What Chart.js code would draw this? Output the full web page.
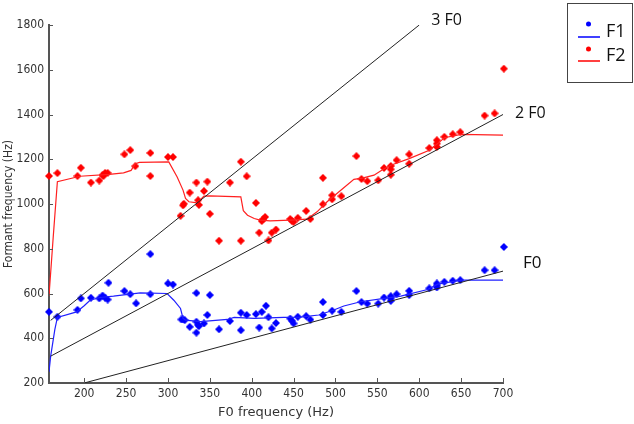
<!DOCTYPE html>
<html>
<head>
<meta charset="utf-8">
<script src="https://cdn.jsdelivr.net/npm/chart.js@4.4.1/dist/chart.umd.min.js"></script>
<style>
  html, body { margin: 0; padding: 0; background: #fff; }
  #wrap { width: 634px; height: 424px; }
</style>
</head>
<body>
<div id="wrap"><canvas id="myChart" width="634" height="424"></canvas></div>
<script>
const f1X = [158, 168, 192, 196, 208, 218, 222, 225, 228, 229, 248, 255, 262, 279, 279, 300, 306, 316, 318, 320, 326, 334, 334, 334, 336, 337, 343, 347, 350, 361, 374, 387, 387, 394, 405, 409, 412, 417, 420, 424, 429, 446, 448, 450, 455, 465, 470, 485, 485, 496, 507, 525, 531, 538, 551, 558, 566, 566, 566, 573, 588, 588, 612, 621, 621, 621, 630, 640, 649, 678, 690, 701];
const f1Y = [518, 496, 527, 578, 581, 578, 591, 581, 573, 648, 611, 597, 556, 776, 597, 645, 640, 484, 484, 481, 451, 602, 425, 474, 460, 454, 466, 504, 593, 440, 477, 514, 436, 504, 508, 448, 518, 545, 494, 444, 468, 488, 478, 466, 496, 499, 483, 562, 504, 523, 518, 611, 562, 555, 555, 582, 588, 578, 567, 597, 612, 593, 623, 645, 636, 627, 652, 657, 660, 704, 704, 808];

const f2X = [158, 168, 192, 196, 208, 218, 222, 225, 228, 223, 248, 255, 261, 279, 279, 300, 306, 315, 318, 319, 326, 334, 336, 337, 343, 347, 350, 361, 374, 387, 387, 394, 405, 409, 412, 414, 416, 420, 424, 429, 446, 448, 450, 455, 465, 470, 485, 485, 496, 496, 507, 525, 531, 538, 551, 558, 566, 566, 566, 573, 588, 588, 612, 621, 621, 621, 630, 640, 649, 678, 690, 701];
const f2Y = [1125, 1138, 1125, 1162, 1096, 1105, 1130, 1139, 1139, 1125, 1222, 1241, 1169, 1228, 1125, 1210, 1210, 947, 994, 1001, 1051, 1096, 1017, 996, 1058, 1100, 956, 836, 1096, 1189, 836, 1124, 1005, 872, 924, 933, 942, 837, 872, 886, 933, 924, 920, 938, 969, 933, 1117, 999, 1039, 1021, 1035, 1214, 1112, 1102, 1106, 1161, 1170, 1155, 1131, 1196, 1222, 1180, 1250, 1285, 1270, 1255, 1300, 1312, 1321, 1395, 1405, 1605];

// smoothed tracks
const f1CurveX = [158, 160, 165, 168, 191, 200, 207, 219, 235, 267, 299, 307, 315, 318, 321, 339, 371, 379, 403, 438, 458, 480, 498, 510, 530, 558, 578, 610, 622, 650, 701];
const f1CurveY = [250, 320, 440, 493, 518, 545, 570, 582, 588, 603, 600, 570, 533, 489, 481, 474, 484, 493, 489, 493, 494, 504, 526, 544, 563, 578, 588, 618, 642, 660, 660];

const f2CurveX = [158, 163, 168, 195, 230, 247, 256, 261, 266, 301, 311, 318, 321, 325, 335, 343, 350, 387, 390, 395, 403, 410, 422, 446, 466, 478, 490, 506, 522, 532, 546, 558, 566, 588, 612, 622, 630, 650, 701];
const f2CurveY = [590, 850, 1100, 1124, 1132, 1139, 1150, 1180, 1186, 1188, 1121, 1062, 1025, 1010, 1005, 1035, 1036, 1032, 970, 950, 935, 928, 925, 928, 932, 965, 1010, 1060, 1110, 1116, 1129, 1158, 1173, 1203, 1240, 1270, 1296, 1311, 1308];

// harmonic reference lines
const h1X = [200, 700], h1Y = [200, 700];
const h2X = [160, 700], h2Y = [320, 1400];
const h3X = [160, 600], h3Y = [480, 1800];

const xTicks = [200, 250, 300, 350, 400, 450, 500, 550, 600, 650, 700];
const yTicks = [200, 400, 600, 800, 1000, 1200, 1400, 1600, 1800];

function pts(xs, ys) {
  return xs.map((x, i) => ({ x: x, y: ys[i] }));
}

// little filled "plus" marker like the original plot
function makeMarker(color) {
  const c = document.createElement("canvas");
  c.width = 8;
  c.height = 8;
  const g = c.getContext("2d");
  g.fillStyle = color;
  g.beginPath();
  g.moveTo(4, 0);
  g.lineTo(6, 2);
  g.lineTo(8, 4);
  g.lineTo(6, 6);
  g.lineTo(4, 8);
  g.lineTo(2, 6);
  g.lineTo(0, 4);
  g.lineTo(2, 2);
  g.closePath();
  g.fill();
  g.fillRect(2, 2, 4, 4);
  return c;
}

const tickFont = "'DejaVu Sans', sans-serif";
const labelFont = "'Open Sans', 'Noto Sans', sans-serif";

// condensed look for the axis text
const condense = {
  id: "condense",
  beforeInit(chart) {
    chart.ctx.fontStretch = "condensed";
  },
  beforeDraw(chart) {
    chart.ctx.fontStretch = "condensed";
  },
};

const decorations = {
  id: "decorations",
  afterDraw(chart) {
    const ctx = chart.ctx;
    const xs = chart.scales.x;
    const ys = chart.scales.y;
    const area = chart.chartArea;
    ctx.save();
    ctx.fontStretch = "normal";

    // inward tick marks
    ctx.strokeStyle = "#555";
    ctx.lineWidth = 1;
    ctx.beginPath();
    xTicks.forEach((v) => {
      const px = Math.round(xs.getPixelForValue(v)) + 0.5;
      ctx.moveTo(px, area.bottom);
      ctx.lineTo(px, area.bottom - 5);
    });
    yTicks.forEach((v) => {
      const py = Math.round(ys.getPixelForValue(v)) + 0.5;
      ctx.moveTo(area.left, py);
      ctx.lineTo(area.left + 4, py);
    });
    ctx.stroke();

    // harmonic labels
    ctx.fillStyle = "#111";
    ctx.font = "16px " + labelFont;
    ctx.textBaseline = "middle";
    ctx.textAlign = "left";
    ctx.fillText("3 F0", xs.getPixelForValue(600) + 12, ys.getPixelForValue(1800) - 5);
    ctx.fillText("2 F0", xs.getPixelForValue(700) + 12, ys.getPixelForValue(1400) - 1);
    ctx.font = "17px " + labelFont;
    ctx.fillText("F0", xs.getPixelForValue(700) + 20, ys.getPixelForValue(700) - 8);

    // legend box
    ctx.strokeStyle = "#444";
    ctx.lineWidth = 1;
    ctx.strokeRect(567.5, 3.5, 65, 79);
    const rows = [
      { label: "F1", color: "#0000ff", dotY: 24, lineY: 37, textY: 32 },
      { label: "F2", color: "#ff0000", dotY: 49, lineY: 61, textY: 56 },
    ];
    ctx.font = "18px " + labelFont;
    rows.forEach((r) => {
      ctx.fillStyle = r.color;
      ctx.beginPath();
      ctx.arc(588.5, r.dotY, 2.5, 0, Math.PI * 2);
      ctx.fill();
      ctx.strokeStyle = r.color;
      ctx.lineWidth = 1.5;
      ctx.beginPath();
      ctx.moveTo(578, r.lineY);
      ctx.lineTo(600, r.lineY);
      ctx.stroke();
      ctx.fillStyle = "#111";
      ctx.fillText(r.label, 606, r.textY);
    });
    ctx.restore();
  },
};

const ctx = document.getElementById("myChart");

new Chart(ctx, {
  type: "scatter",
  data: {
    datasets: [
      {
        label: "3 F0",
        data: pts(h3X, h3Y),
        showLine: true,
        borderColor: "#222",
        borderWidth: 1,
        pointRadius: 0,
      },
      {
        label: "2 F0",
        data: pts(h2X, h2Y),
        showLine: true,
        borderColor: "#222",
        borderWidth: 1,
        pointRadius: 0,
      },
      {
        label: "F0",
        data: pts(h1X, h1Y),
        showLine: true,
        borderColor: "#222",
        borderWidth: 1,
        pointRadius: 0,
      },
      {
        label: "F2 track",
        data: pts(f2CurveX, f2CurveY),
        showLine: true,
        borderColor: "#ff2020",
        borderWidth: 1.2,
        pointRadius: 0,
      },
      {
        label: "F1 track",
        data: pts(f1CurveX, f1CurveY),
        showLine: true,
        borderColor: "#2020ff",
        borderWidth: 1.2,
        pointRadius: 0,
      },
      {
        label: "F2",
        data: pts(f2X, f2Y),
        pointStyle: makeMarker("#ff0000"),
        clip: false,
      },
      {
        label: "F1",
        data: pts(f1X, f1Y),
        pointStyle: makeMarker("#0000ff"),
        clip: false,
      },
    ],
  },
  options: {
    responsive: false,
    animation: false,
    layout: {
      padding: { top: 25, right: 131, left: 0, bottom: 0 },
    },
    plugins: {
      legend: { display: false },
      tooltip: { enabled: false },
    },
    scales: {
      x: {
        type: "linear",
        min: 158,
        max: 700,
        afterBuildTicks: (scale) => {
          scale.ticks = xTicks.map((v) => ({ value: v }));
        },
        afterFit: (scale) => {
          scale.height = 41;
        },
        grid: { display: false, drawTicks: false },
        border: { color: "#555", width: 2 },
        ticks: {
          padding: 4,
          color: "#333",
          font: { family: tickFont, size: 12 },
          callback: (v) => String(v),
        },
        title: {
          display: true,
          text: "F0 frequency (Hz)",
          color: "#333",
          font: { family: tickFont, size: 13 },
          padding: { top: 0, bottom: 4 },
        },
      },
      y: {
        type: "linear",
        min: 200,
        max: 1800,
        afterBuildTicks: (scale) => {
          scale.ticks = yTicks.map((v) => ({ value: v }));
        },
        afterFit: (scale) => {
          scale.width = 49;
        },
        grid: { display: false, drawTicks: false },
        border: { color: "#555", width: 2 },
        ticks: {
          padding: 5,
          color: "#333",
          font: { family: tickFont, size: 12 },
          callback: (v) => String(v),
        },
        title: {
          display: true,
          text: "Formant frequency (Hz)",
          color: "#333",
          font: { family: tickFont, size: 12 },
          padding: { top: 2, bottom: 0 },
        },
      },
    },
  },
  plugins: [condense, decorations],
});
</script>
</body>
</html>
